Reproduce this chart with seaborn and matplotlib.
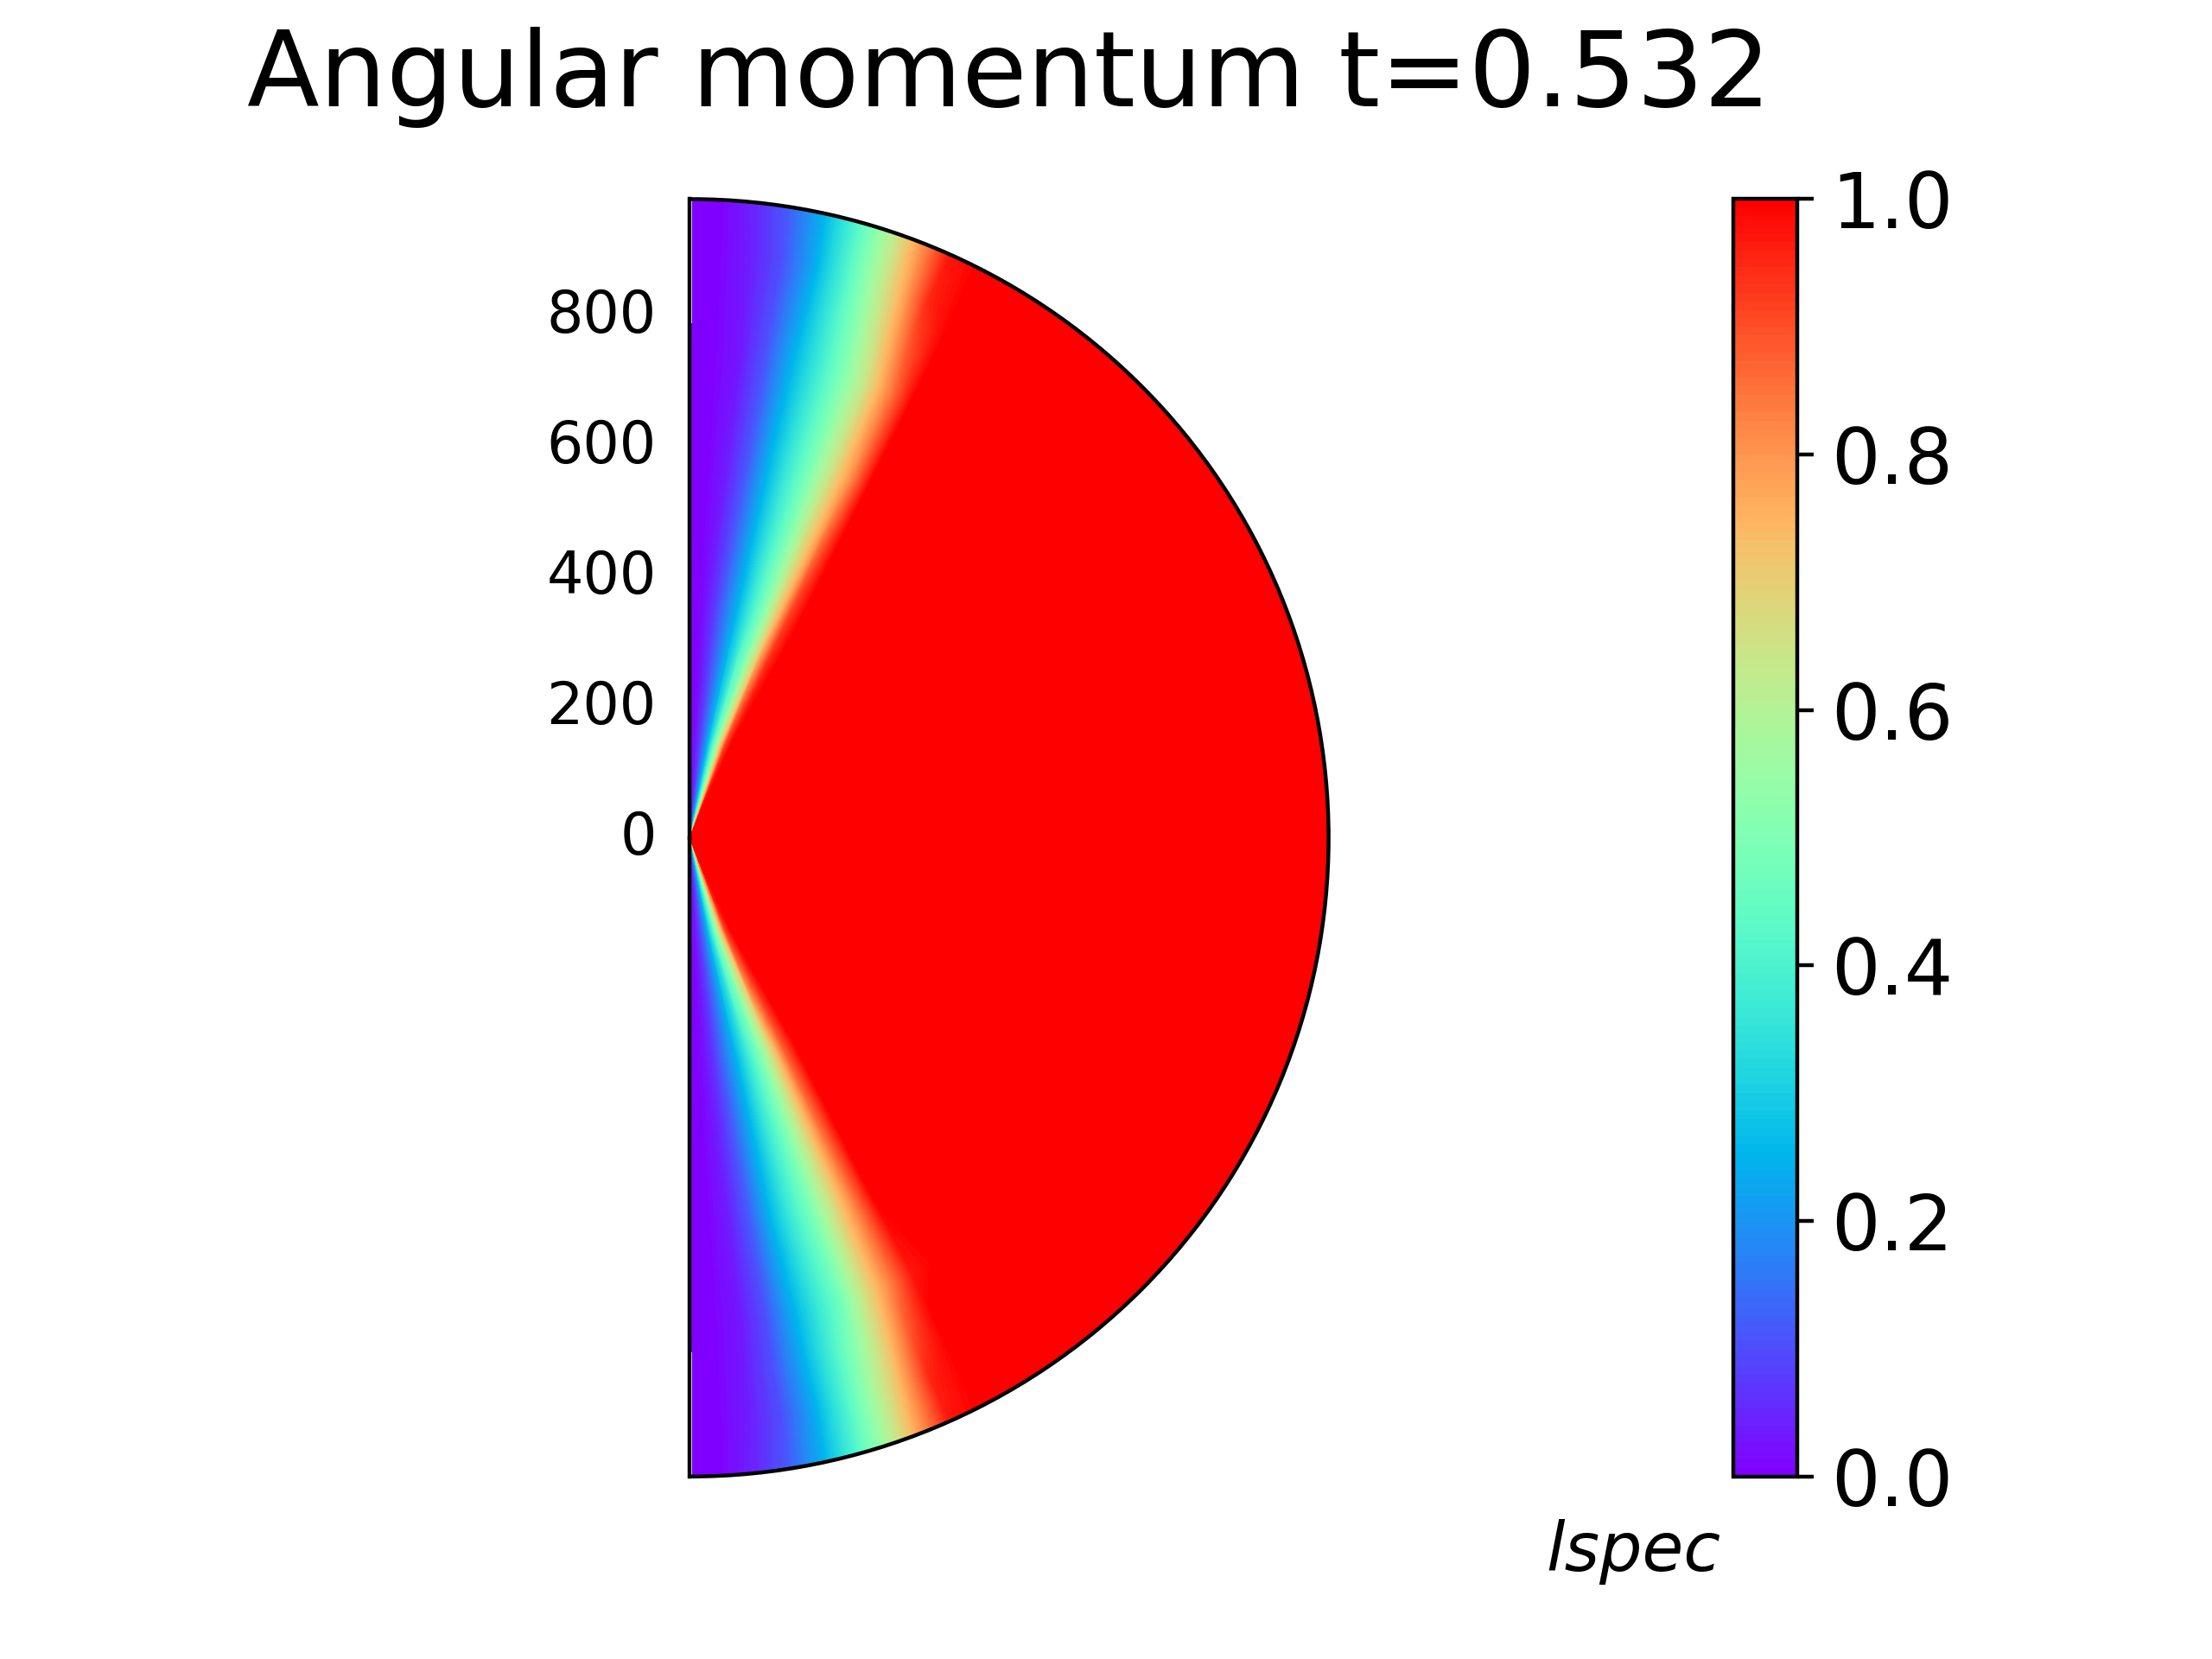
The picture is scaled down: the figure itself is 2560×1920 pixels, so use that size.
import numpy as np
import matplotlib
matplotlib.use("Agg")
import matplotlib.pyplot as plt
import seaborn as sns

# radial nodes (same units as the r axis) and colatitude nodes of the polar bands
radius = [0, 150, 350, 600, 750, 820, 860, 900, 940, 980]
band_deg = [0.25, 3, 6, 9, 12, 15, 18, 21, 24, 27, 30]

# lspec, one row per radius, columns = degrees from the north pole
north_vals = [
    [0.0, 0.020, 0.085, 0.19, 0.34, 0.52, 0.74, 1.00, 1.00, 1.0, 1.0],
    [0.0, 0.020, 0.080, 0.17, 0.31, 0.48, 0.68, 0.92, 1.00, 1.0, 1.0],
    [0.0, 0.010, 0.070, 0.16, 0.26, 0.38, 0.51, 0.70, 0.92, 1.0, 1.0],
    [0.0, 0.005, 0.040, 0.12, 0.25, 0.37, 0.49, 0.64, 0.80, 1.0, 1.0],
    [0.0, 0.005, 0.030, 0.11, 0.24, 0.36, 0.49, 0.64, 0.82, 1.0, 1.0],
    [0.0, 0.005, 0.035, 0.105, 0.23, 0.37, 0.52, 0.69, 0.88, 1.0, 1.0],
    [0.0, 0.005, 0.038, 0.10, 0.225, 0.375, 0.54, 0.715, 0.915, 1.0, 1.0],
    [0.0, 0.005, 0.040, 0.10, 0.22, 0.38, 0.56, 0.74, 0.95, 1.0, 1.0],
    [0.0, 0.005, 0.045, 0.11, 0.23, 0.39, 0.57, 0.76, 0.96, 1.0, 1.0],
    [0.0, 0.006, 0.050, 0.12, 0.24, 0.40, 0.58, 0.78, 0.97, 1.0, 1.0],
]
# same, columns = degrees from the south pole
south_vals = [
    [0.0, 0.023, 0.093, 0.21, 0.37, 0.57, 0.82, 1.00, 1.00, 1.0, 1.0],
    [0.0, 0.020, 0.080, 0.17, 0.31, 0.48, 0.68, 0.92, 1.00, 1.0, 1.0],
    [0.0, 0.010, 0.060, 0.15, 0.25, 0.37, 0.50, 0.68, 0.88, 1.0, 1.0],
    [0.0, 0.005, 0.040, 0.12, 0.25, 0.37, 0.49, 0.65, 0.82, 1.0, 1.0],
    [0.0, 0.005, 0.030, 0.10, 0.23, 0.35, 0.47, 0.66, 0.82, 0.97, 1.0],
    [0.0, 0.005, 0.035, 0.105, 0.23, 0.37, 0.52, 0.69, 0.88, 1.0, 1.0],
    [0.0, 0.005, 0.038, 0.10, 0.225, 0.375, 0.54, 0.715, 0.915, 1.0, 1.0],
    [0.0, 0.005, 0.040, 0.10, 0.22, 0.38, 0.56, 0.74, 0.95, 1.0, 1.0],
    [0.0, 0.005, 0.045, 0.11, 0.23, 0.39, 0.57, 0.76, 0.96, 1.0, 1.0],
    [0.0, 0.006, 0.050, 0.12, 0.24, 0.40, 0.58, 0.78, 0.97, 1.0, 1.0],
]
r_ticks = [0, 200, 400, 600, 800]
cbar_ticks = [0.0, 0.2, 0.4, 0.6, 0.8, 1.0]
title = "Angular momentum t=0.532"

sns.set_style("white", {"axes.edgecolor": "black", "text.color": "black",
                        "xtick.color": "black", "ytick.color": "black"})
plt.rcParams['font.family'] = ['DejaVu Sans']
cmap = sns.color_palette("rainbow", as_cmap=True)

# build the (theta, r) grid: north band, saturated interior, south band
north = np.array(north_vals)
south = np.array(south_vals)[:, ::-1]
mid_deg = np.arange(33, 148, 3)
theta_deg = np.concatenate([band_deg, mid_deg, 180 - np.array(band_deg)[::-1]])
Z = np.hstack([north, np.ones((len(radius), len(mid_deg))), south])
T, R = np.meshgrid(np.deg2rad(theta_deg), radius)

fig = plt.figure(figsize=(6.4, 4.8), dpi=400)
ax = fig.add_subplot(projection='polar')
ax.set_theta_zero_location('N')
ax.set_theta_direction(-1)
ax.set_thetamin(0)
ax.set_thetamax(180)

cs = ax.contourf(T, R, Z, levels=np.linspace(0, 1, 151), cmap=cmap, vmin=0, vmax=1)
ax.set_ylim(0, 980)
ax.set_xticks([])
ax.set_yticks(r_ticks)
ax.tick_params(axis='y', labelsize=12)
ax.grid(False)
ax.set_title(title, fontsize=22, y=1.05)

cbar = fig.colorbar(cs, ax=ax, ticks=cbar_ticks)
cbar.ax.tick_params(labelsize=16, right=True, length=3.5, width=0.8, color='black')
cbar.outline.set_edgecolor('black')
cbar.outline.set_linewidth(0.8)
cbar.ax.text(-0.2, -0.074, "lspec", transform=cbar.ax.transAxes, ha='right',
             va='baseline', fontsize=14, style='italic')

fig.savefig('out.png', dpi=400)
